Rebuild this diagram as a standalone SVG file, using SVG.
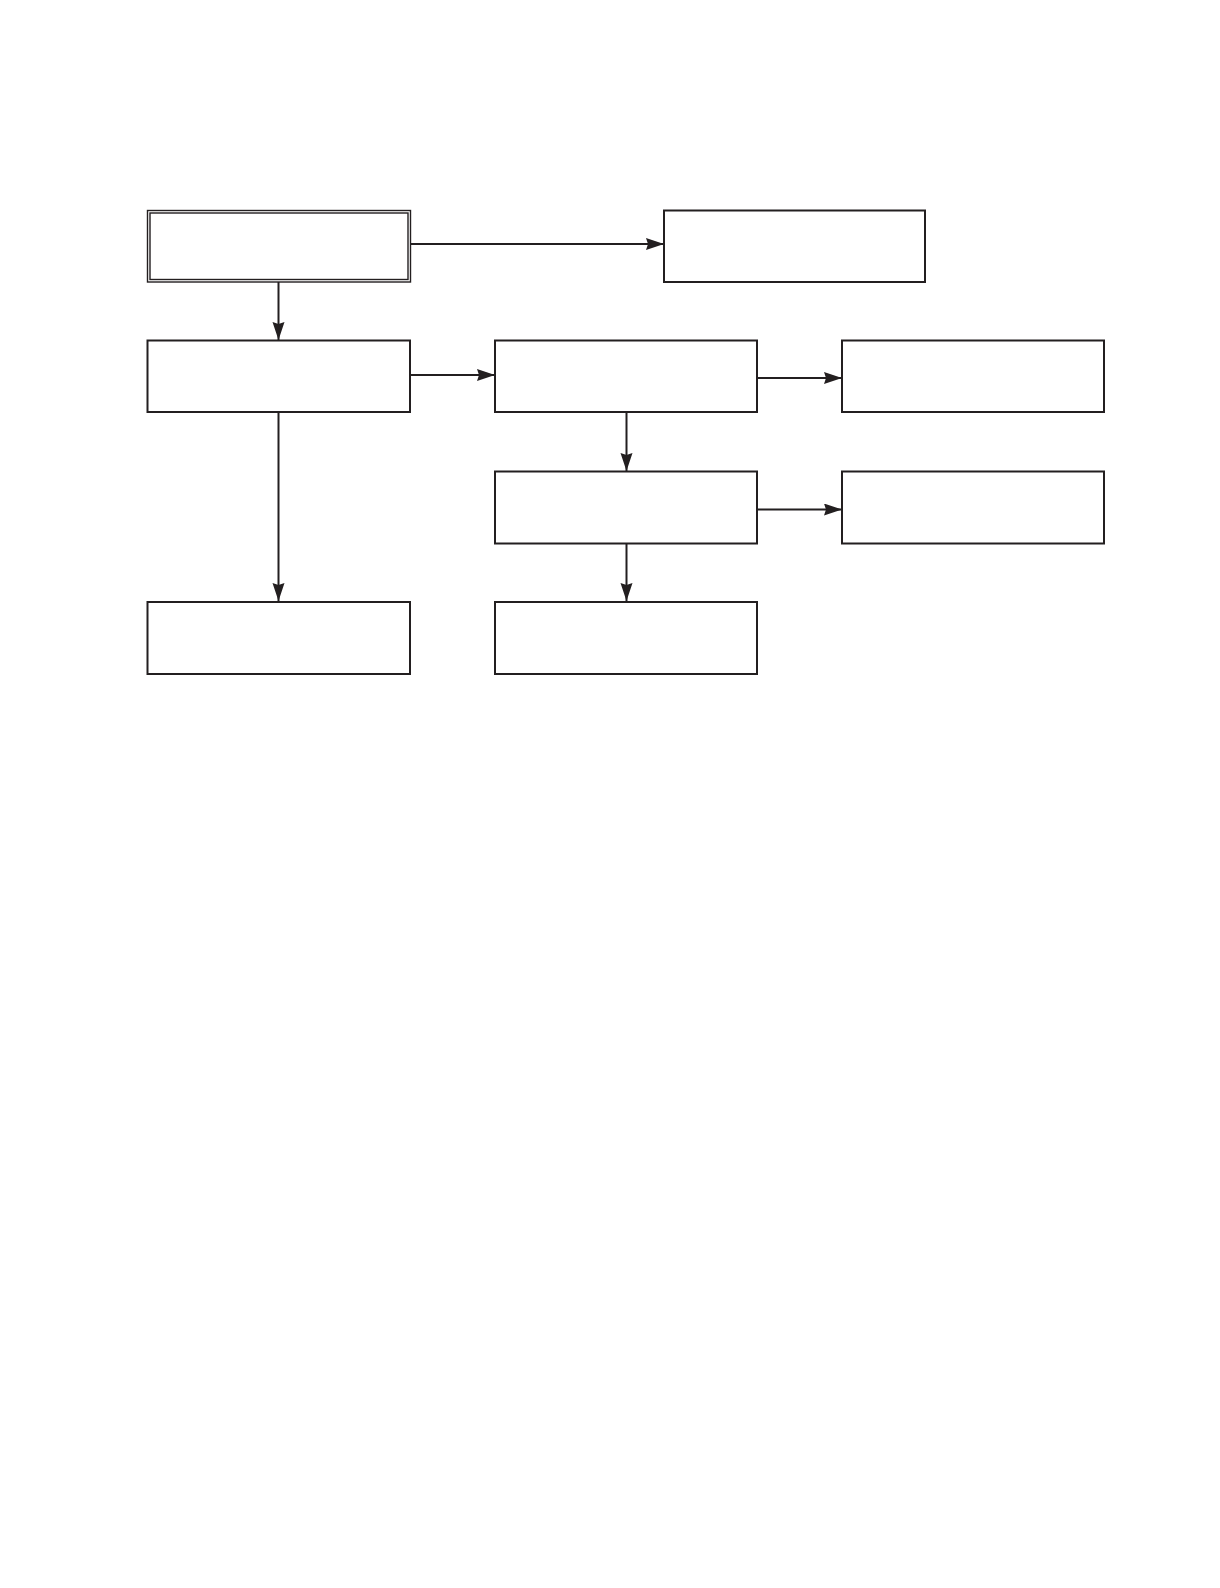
<svg xmlns="http://www.w3.org/2000/svg" width="1220" height="1588" viewBox="0 0 1220 1588">
<style>
.box{fill:#fff;stroke:#231f20;stroke-width:2}
.thin{fill:none;stroke:#231f20;stroke-width:1.4}
.edge{fill:none;stroke:#231f20;stroke-width:2;marker-end:url(#ah)}
</style>
<defs>
<marker id="ah" markerUnits="userSpaceOnUse" markerWidth="19" markerHeight="13" refX="18" refY="6" orient="auto">
<path d="M0,0 L18,6 L0,12 L2,6 z" fill="#231f20"/>
</marker>
</defs>
<rect width="1220" height="1588" fill="#fff"/>
<g id="connectors">
<line class="edge" x1="410" y1="244" x2="664" y2="244"/>
<line class="edge" x1="278.5" y1="282" x2="278.5" y2="340"/>
<line class="edge" x1="410" y1="375" x2="495" y2="375"/>
<line class="edge" x1="757" y1="378" x2="842" y2="378"/>
<line class="edge" x1="626.5" y1="412" x2="626.5" y2="471"/>
<line class="edge" x1="757" y1="509.5" x2="842" y2="509.5"/>
<line class="edge" x1="278.5" y1="412" x2="278.5" y2="601"/>
<line class="edge" x1="626.5" y1="544" x2="626.5" y2="601"/>
</g>
<g id="n1"><rect class="thin" x="147.5" y="210.5" width="263" height="71.5"/><rect class="thin" x="150" y="213" width="258" height="66.5"/></g>
<g id="n2"><rect class="box" x="664" y="210.5" width="261" height="71.5"/></g>
<g id="n3"><rect class="box" x="147.5" y="340.5" width="262.5" height="71.5"/></g>
<g id="n4"><rect class="box" x="495" y="340.5" width="262" height="71.5"/></g>
<g id="n5"><rect class="box" x="842" y="340.5" width="262" height="71.5"/></g>
<g id="n6"><rect class="box" x="495" y="471.5" width="262" height="72"/></g>
<g id="n7"><rect class="box" x="842" y="471.5" width="262" height="72"/></g>
<g id="n8"><rect class="box" x="147.5" y="602" width="262.5" height="72"/></g>
<g id="n9"><rect class="box" x="495" y="602" width="262" height="72"/></g>
</svg>
